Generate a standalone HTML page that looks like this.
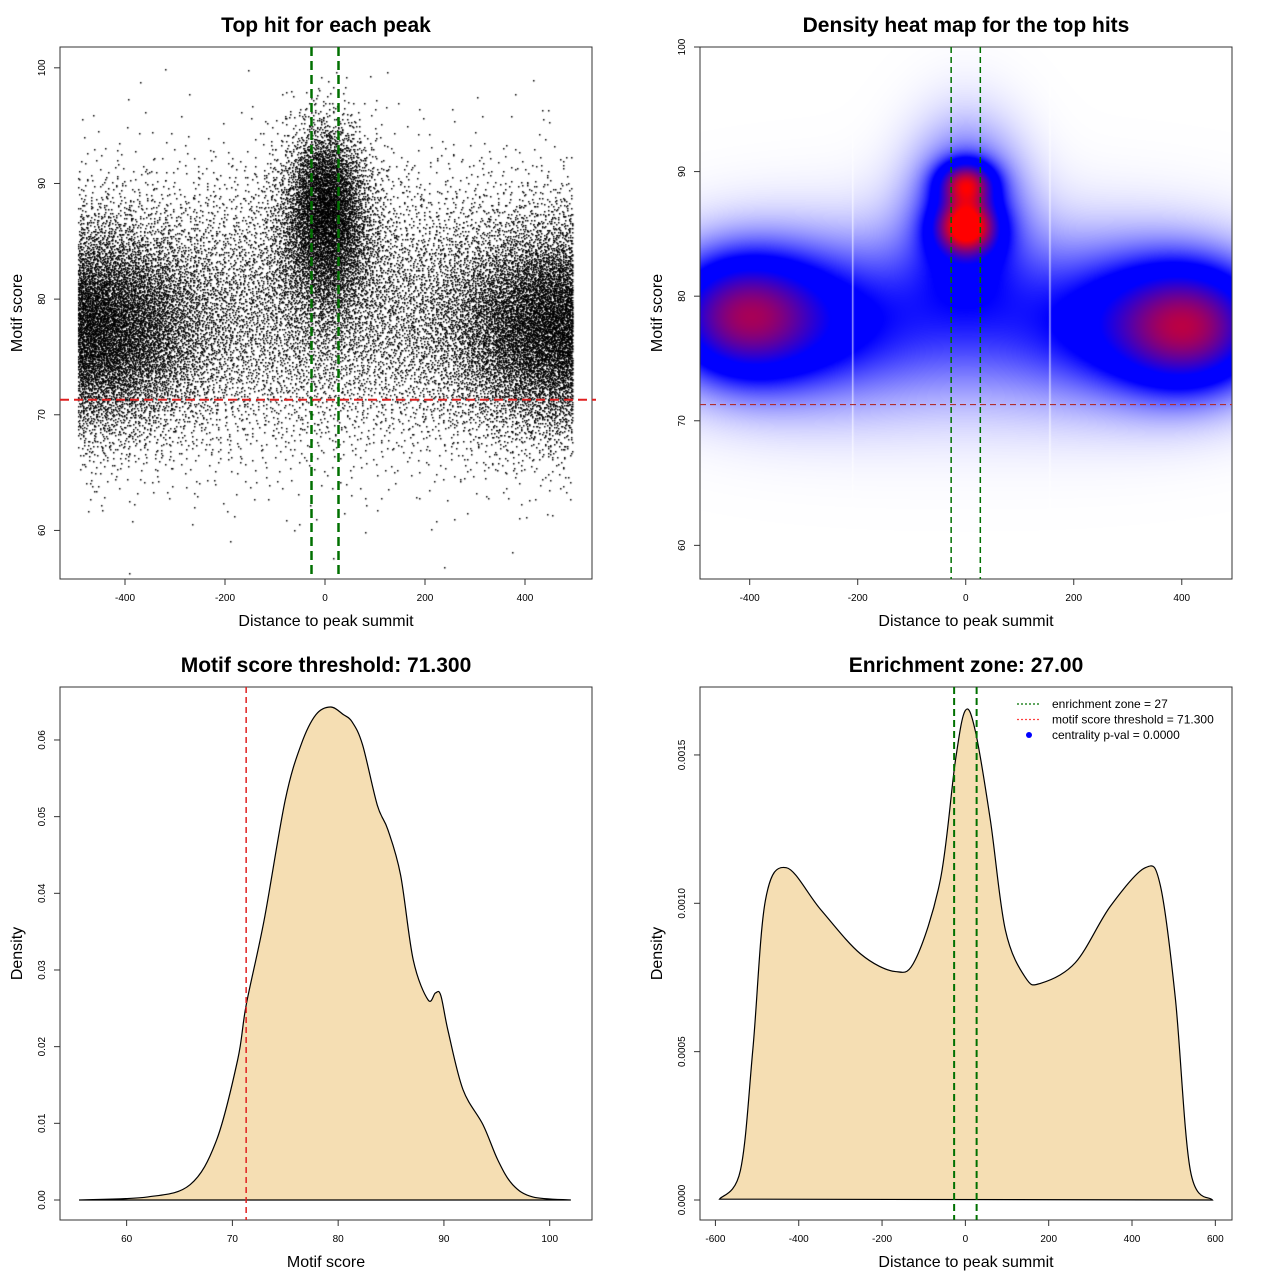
<!DOCTYPE html>
<html><head><meta charset="utf-8">
<style>
body{margin:0;background:#fff;}
#wrap{position:relative;width:1280px;height:1280px;overflow:hidden;font-family:"Liberation Sans",sans-serif;}
canvas{position:absolute;}
svg{position:absolute;left:0;top:0;}
text{font-family:"Liberation Sans",sans-serif;}
</style></head>
<body>
<div id="wrap">
<canvas id="scatter" width="532" height="532" style="left:60px;top:47px"></canvas>
<canvas id="heat" width="532" height="532" style="left:700px;top:47px"></canvas>
<svg id="svg" width="1280" height="1280" xmlns="http://www.w3.org/2000/svg"></svg>
</div>
<script>
// ---------- data ----------
const p1XTicks = [-400,-200,0,200,400];
const p1YTicks = [60,70,80,90,100];
const p3XTicks = [60,70,80,90,100];
const p3YTicks = [0,0.01,0.02,0.03,0.04,0.05,0.06];
const p3YLabels = ["0.00","0.01","0.02","0.03","0.04","0.05","0.06"];
const p4XTicks = [-600,-400,-200,0,200,400,600];
const p4YTicks = [0,0.0005,0.001,0.0015];
const p4YLabels = ["0.0000","0.0005","0.0010","0.0015"];
const threshold = 71.3;
const zone = 27;
// scatter mixture components
const scatterCompMeanX = [-430, 430, 0, 0, 0];
const scatterCompSdX   = [110, 110, 50, 35, 300];
const scatterCompMeanY = [77.5, 77.5, 86, 89.5, 79];
const scatterCompSdY   = [4.6, 4.6, 4.0, 3.0, 6.0];
const scatterCompW     = [0.25, 0.25, 0.14, 0.06, 0.30];
// heatmap mixture
const heatMeanX = [-420, 420, 0, 0, 0, 0, -300, 300];
const heatSdX   = [100, 100, 38, 35, 330, 75, 160, 160];
const heatMeanY = [78.5, 77.5, 85.6, 89.1, 78, 87, 78, 78];
const heatSdY   = [3.6, 3.6, 1.5, 1.2, 5.5, 4.8, 4.5, 4.5];
const heatW     = [0.75, 0.8, 1.0, 0.8, 0.3, 0.5, 0.35, 0.35];
// density curve of motif score
const scoreX = [55.5,62,66,68.5,70.5,71.3,73,75,76.5,77.9,79.3,80.5,81.3,82.3,83.7,84.7,85.9,87.1,88.5,89.2,89.7,90.4,91.8,93.7,95.1,96.5,98.4,102];
const scoreD = [0,0.0004,0.002,0.0078,0.0183,0.0254,0.0365,0.0522,0.0594,0.0633,0.0643,0.0633,0.0624,0.0594,0.0515,0.0483,0.0424,0.0313,0.0261,0.027,0.0267,0.022,0.0144,0.0098,0.0052,0.002,0.0004,0];
// density curve of distance
const distX = [-590,-540,-510,-480,-430,-348,-252,-168,-120,-60,-24,0,24,60,96,144,180,264,348,432,468,504,540,593];
const distD = [0.000003,0.0001,0.00051,0.00101,0.00112,0.00098,0.00083,0.00077,0.00081,0.00108,0.00148,0.00165,0.00158,0.00128,0.00091,0.00075,0.00073,0.0008,0.00099,0.00112,0.00106,0.00068,0.0001,0];

// ---------- scales ----------
const P1 = {x0:60,y0:47,w:532,h:532, xmin:-530,xmax:534, ymin:55.8,ymax:101.8};
const P2 = {x0:700,y0:47,w:532,h:532, xmin:-492,xmax:493, ymin:57.3,ymax:100};
const P3 = {x0:60,y0:687,w:532,h:533, xmin:53.7,xmax:104, ymin:-0.00261,ymax:0.06691};
const P4 = {x0:700,y0:687,w:532,h:533, xmin:-637,xmax:640, ymin:-0.0000674,ymax:0.0017290};
function sx(P,v){return P.x0+(v-P.xmin)/(P.xmax-P.xmin)*P.w;}
function sy(P,v){return P.y0+P.h-(v-P.ymin)/(P.ymax-P.ymin)*P.h;}

const NS="http://www.w3.org/2000/svg";
const svg=document.getElementById('svg');
function el(tag,attrs,parent){const e=document.createElementNS(NS,tag);for(const k in attrs)e.setAttribute(k,attrs[k]);(parent||svg).appendChild(e);return e;}
function txt(s,x,y,size,attrs){const t=el('text',Object.assign({x:x,y:y,'font-size':size,'text-anchor':'middle',fill:'#000'},attrs||{}));t.textContent=s;return t;}

function panel(P,name,title,xlab,ylab,xt,xtl,yt,ytl){
  const g=el('g',{});
  
  
  const b=el('rect',{x:P.x0,y:P.y0,width:P.w,height:P.h,fill:'none',stroke:'#333','stroke-width':1},g);
  
  
  const t=txt(title,P.x0+P.w/2,P.y0-15,21,{'font-weight':'bold'});g.appendChild(t);
  
  
  const xl=txt(xlab,P.x0+P.w/2,P.y0+P.h+47,16);g.appendChild(xl);
  
  
  const yl=txt(ylab,0,0,16,{transform:`translate(${P.x0-38},${P.y0+P.h/2}) rotate(-90)`});g.appendChild(yl);
  
  
  const xa=el('g',{},g);
  
  
  xt.forEach((v,i)=>{const X=sx(P,v);el('line',{x1:X,x2:X,y1:P.y0+P.h,y2:P.y0+P.h+6,stroke:'#333'},xa);
    const l=txt(xtl[i],X,P.y0+P.h+22,10);xa.appendChild(l);
    
    });
  const ya=el('g',{},g);
  
  
  yt.forEach((v,i)=>{const Y=sy(P,v);el('line',{x1:P.x0-6,x2:P.x0,y1:Y,y2:Y,stroke:'#333'},ya);
    const l=txt(ytl[i],0,0,10,{transform:`translate(${P.x0-15},${Y}) rotate(-90)`});ya.appendChild(l);
    
    });
  return g;
}
function vline(P,v,color,w,dash,name){const X=sx(P,v);const l=el('line',{x1:X,x2:X,y1:P.y0,y2:P.y0+P.h,stroke:color,'stroke-width':w,'stroke-dasharray':dash});
  
  }
function hline(P,v,color,w,dash,name,x1,x2){const Y=sy(P,v);const l=el('line',{x1:x1!==undefined?x1:P.x0,x2:x2!==undefined?x2:P.x0+P.w,y1:Y,y2:Y,stroke:color,'stroke-width':w,'stroke-dasharray':dash});
  
  }

function halton(i,b){let f=1,r=0;while(i>0){f/=b;r+=f*(i%b);i=Math.floor(i/b);}return r;}

// ---------- panel 1 scatter ----------
(function(){
  const c=document.getElementById('scatter').getContext('2d');
  c.fillStyle='#000';
  const N=30000;
  const cum=[];let s=0;scatterCompW.forEach(w=>{s+=w;cum.push(s);});
  for(let i=1;i<=N;i++){
    const u=halton(i,5)*s;let k=0;while(k<cum.length-1&&u>cum[k])k++;
    const u1=Math.max(1e-9,halton(i,2)),u2=halton(i,3);
    const r=Math.sqrt(-2*Math.log(u1));
    let x=scatterCompMeanX[k]+scatterCompSdX[k]*r*Math.cos(2*Math.PI*u2);
    let y=scatterCompMeanY[k]+scatterCompSdY[k]*r*Math.sin(2*Math.PI*u2);
    for(let t=0;t<3;t++){ if(x>495)x=990-x; if(x<-495)x=-990-x; }
    if(x<-495||x>495) continue;
    if(y>100)y=200-y;
    const X=sx(P1,x)-P1.x0, Y=sy(P1,y)-P1.y0;
    c.fillRect(Math.round(X),Math.round(Y),1.5,1.5);
  }
})();
panel(P1,'scatter-panel','Top hit for each peak','Distance to peak summit','Motif score',p1XTicks,p1XTicks.map(String),p1YTicks,p1YTicks.map(String));
vline(P1,-zone,'#007000',2.5,'9,5','enrichment-zone-left');
vline(P1,zone,'#007000',2.5,'9,5','enrichment-zone-right');
hline(P1,threshold,'#e02020',2,'9,5','threshold-line',P1.x0,P1.x0+P1.w+4);

// ---------- panel 2 heatmap ----------
(function(){
  const cv=document.getElementById('heat'),c=cv.getContext('2d');
  const W=532,H=532,img=c.createImageData(W,H);
  const vals=new Float32Array(W*H);let mx=0;
  for(let j=0;j<H;j++){const y=P2.ymax-(j/H)*(P2.ymax-P2.ymin);
    for(let i=0;i<W;i++){const x=P2.xmin+(i/W)*(P2.xmax-P2.xmin);
      let d=0;for(let k=0;k<heatW.length;k++){const a=(x-heatMeanX[k])/heatSdX[k],b=(y-heatMeanY[k])/heatSdY[k];d+=heatW[k]*Math.exp(-0.5*(a*a+b*b));}
      vals[j*W+i]=d;if(d>mx)mx=d;}}
  for(let p=0;p<W*H;p++){
    const t=Math.min(1,vals[p]/mx);
    let r,g,b;
    const s=Math.min(1,Math.pow(t/0.33,1.2));
    r=255*(1-s);g=255*(1-s);b=255;
    if(t>0.45){const q=Math.min(1,(t-0.45)/0.4);r=255*q;g=0;b=255*(1-q);}
    img.data[p*4]=r;img.data[p*4+1]=g;img.data[p*4+2]=b;img.data[p*4+3]=255;}
  c.putImageData(img,0,0);
  c.fillStyle='rgba(255,255,255,0.9)';
  c.fillRect(sx(P2,-210)-P2.x0,0,1,H);c.fillRect(sx(P2,155)-P2.x0,0,1,H);
})();
panel(P2,'heatmap-panel','Density heat map for the top hits','Distance to peak summit','Motif score',p1XTicks,p1XTicks.map(String),p1YTicks,p1YTicks.map(String));
vline(P2,-zone,'#007000',1.5,'6,4','enrichment-zone-left');
vline(P2,zone,'#007000',1.5,'6,4','enrichment-zone-right');
hline(P2,threshold,'#b03030',1.2,'6,4','threshold-line');

// ---------- curves ----------
function curvePath(P,xs,ys){
  const pts=xs.map((x,i)=>[sx(P,x),sy(P,ys[i])]);
  let d=`M${pts[0][0]},${pts[0][1]}`;
  for(let i=0;i<pts.length-1;i++){
    const p0=pts[Math.max(0,i-1)],p1=pts[i],p2=pts[i+1],p3=pts[Math.min(pts.length-1,i+2)];
    const c1=[p1[0]+(p2[0]-p0[0])/6,p1[1]+(p2[1]-p0[1])/6],c2=[p2[0]-(p3[0]-p1[0])/6,p2[1]-(p3[1]-p1[1])/6];
    d+=`C${c1[0]},${c1[1]} ${c2[0]},${c2[1]} ${p2[0]},${p2[1]}`;}
  return d;
}
panel(P3,'score-density-panel','Motif score threshold: 71.300','Motif score','Density',p3XTicks,p3XTicks.map(String),p3YTicks,p3YLabels);
const a3=el('path',{d:curvePath(P3,scoreX,scoreD)+'Z',fill:'#f5deb3',stroke:'#000','stroke-width':1.2});


vline(P3,threshold,'#e02020',1.5,'6,4','threshold-line');

panel(P4,'distance-density-panel','Enrichment zone: 27.00','Distance to peak summit','Density',p4XTicks,p4XTicks.map(String),p4YTicks,p4YLabels);
const a4=el('path',{d:curvePath(P4,distX,distD)+'Z',fill:'#f5deb3',stroke:'#000','stroke-width':1.2});


vline(P4,-zone,'#007000',2,'7,4','enrichment-zone-left');
vline(P4,zone,'#007000',2,'7,4','enrichment-zone-right');

// legend
const lg=el('g',{});


const legLabels=['enrichment zone = 27','motif score threshold = 71.300','centrality p-val = 0.0000'];
const legColors=['#007000','#ff4040','#0000ff'];
legLabels.forEach((s,i)=>{const y=704+i*15.5;
  if(i<2) el('line',{x1:1017,x2:1041,y1:y,y2:y,stroke:legColors[i],'stroke-width':1.2,'stroke-dasharray':'2,2'},lg);
  else el('circle',{cx:1029,cy:y,r:3,fill:legColors[i]},lg);
  const t=txt(s,1052,y+4,12,{'text-anchor':'start'});lg.appendChild(t);
  
  });
</script>
</body></html>
